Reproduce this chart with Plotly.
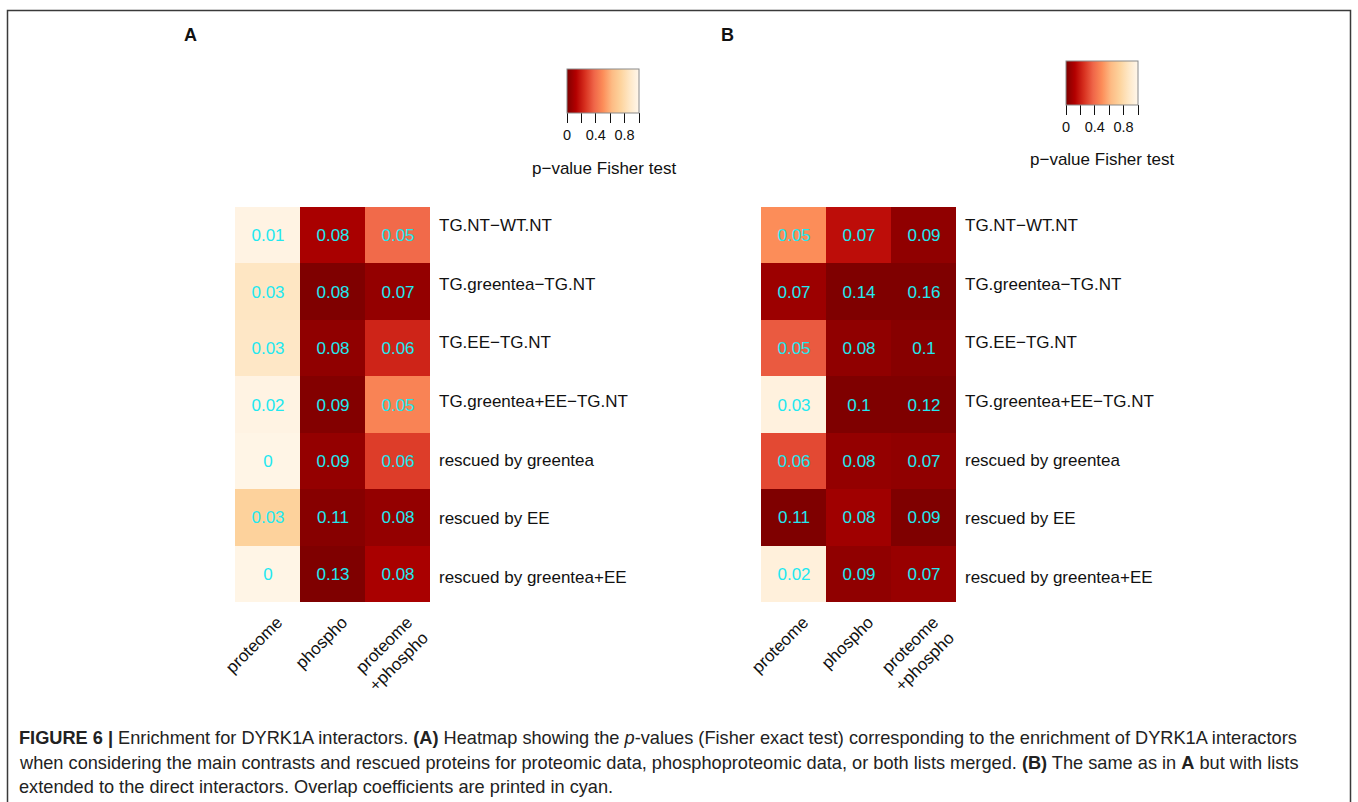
import plotly.graph_objects as go

W, H = 1358, 802

# Row (contrast) and column (data type) labels
contrasts = [
    "TG.NT\u2212WT.NT",
    "TG.greentea\u2212TG.NT",
    "TG.EE\u2212TG.NT",
    "TG.greentea+EE\u2212TG.NT",
    "rescued by greentea",
    "rescued by EE",
    "rescued by greentea+EE",
]
datasets = ["proteome", "phospho", "proteome<br>+phospho"]

# Panel A: Fisher test p-values per data type
pval_A_proteome = [0.97, 0.86, 0.87, 0.97, 0.98, 0.74, 0.98]
pval_A_phospho = [0.10, 0.00, 0.04, 0.01, 0.05, 0.02, 0.00]
pval_A_both = [0.39, 0.05, 0.22, 0.47, 0.28, 0.05, 0.10]

# Panel A: overlap coefficients
ovl_A_proteome = [0.01, 0.03, 0.03, 0.02, 0, 0.03, 0]
ovl_A_phospho = [0.08, 0.08, 0.08, 0.09, 0.09, 0.11, 0.13]
ovl_A_both = [0.05, 0.07, 0.06, 0.05, 0.06, 0.08, 0.08]

# Panel B: Fisher test p-values per data type (direct interactors added)
pval_B_proteome = [0.50, 0.07, 0.35, 0.95, 0.31, 0.00, 0.94]
pval_B_phospho = [0.16, 0.00, 0.04, 0.00, 0.05, 0.08, 0.04]
pval_B_both = [0.04, 0.00, 0.02, 0.00, 0.04, 0.00, 0.06]

# Panel B: overlap coefficients
ovl_B_proteome = [0.05, 0.07, 0.05, 0.03, 0.06, 0.11, 0.02]
ovl_B_phospho = [0.07, 0.14, 0.08, 0.1, 0.08, 0.08, 0.09]
ovl_B_both = [0.09, 0.16, 0.1, 0.12, 0.07, 0.09, 0.07]

cbar_tickvals = [0, 0.2, 0.4, 0.6, 0.8, 1.0]
cbar_ticktext = ["0", "", "0.4", "", "0.8", ""]

# reversed OrRd palette: dark red = small p-value
orrd = ["#7F0000", "#B30000", "#D7301F", "#EF6548", "#FC8D59",
        "#FDBB84", "#FDD49E", "#FEE8C8", "#FFF7EC"]
colorscale = [[i / (len(orrd) - 1), c] for i, c in enumerate(orrd)]

FONT = "Liberation Sans, Arial, Helvetica, sans-serif"
CYAN = "#22E8F0"


def px_x(px):
    return px / W


def px_y(py):
    return 1 - py / H


def matrix(*cols):
    return [list(r) for r in zip(*cols)]


def labels(*cols):
    return [[f"{v:g}" for v in r] for r in zip(*cols)]


def colorbar(cx, top):
    return dict(
        orientation="h",
        x=px_x(cx), xanchor="center",
        y=px_y(top), yanchor="top",
        lenmode="pixels", len=72,
        thicknessmode="pixels", thickness=44,
        xpad=0, ypad=0,
        outlinewidth=1, outlinecolor="#8a8a8a",
        ticks="outside", ticklen=10, tickwidth=1, tickcolor="#111",
        tickvals=cbar_tickvals, ticktext=cbar_ticktext,
        tickfont=dict(family=FONT, size=14.5, color="#111"),
    )


fig = go.Figure()

# empty traces that carry the row-label axes beside each heatmap
for xa, ya in (("x", "y3"), ("x2", "y4")):
    fig.add_trace(go.Scatter(x=[], y=[], xaxis=xa, yaxis=ya,
                             showlegend=False, hoverinfo="skip"))

fig.add_trace(go.Heatmap(
    z=matrix(pval_A_proteome, pval_A_phospho, pval_A_both),
    x=datasets, y=contrasts,
    text=labels(ovl_A_proteome, ovl_A_phospho, ovl_A_both),
    texttemplate="%{text}",
    textfont=dict(family=FONT, size=17, color=CYAN),
    colorscale=colorscale, zmin=0, zmax=1,
    colorbar=colorbar(603, 69),
    xaxis="x", yaxis="y",
))

fig.add_trace(go.Heatmap(
    z=matrix(pval_B_proteome, pval_B_phospho, pval_B_both),
    x=datasets, y=contrasts,
    text=labels(ovl_B_proteome, ovl_B_phospho, ovl_B_both),
    texttemplate="%{text}",
    textfont=dict(family=FONT, size=17, color=CYAN),
    colorscale=colorscale, zmin=0, zmax=1,
    colorbar=colorbar(1102, 61),
    xaxis="x2", yaxis="y2",
))

xcommon = dict(showgrid=False, zeroline=False, showline=False, ticks="",
               tickangle=-45, ticklabelstandoff=6, ticklabelshift=10,
               categoryorder="array", categoryarray=datasets,
               tickfont=dict(family=FONT, size=17, color="#111"),
               fixedrange=True, automargin=False)
ycommon = dict(showgrid=False, zeroline=False, showline=False, ticks="",
               autorange="reversed", showticklabels=False,
               fixedrange=True, automargin=False)
ylabels = dict(showgrid=False, zeroline=False, showline=False, ticks="",
               side="right", ticklabelstandoff=8,
               range=[len(contrasts) - 0.5, -0.5],
               tickvals=list(range(len(contrasts))), ticktext=contrasts,
               tickfont=dict(family=FONT, size=17, color="#111"),
               fixedrange=True, automargin=False)

fig.update_layout(
    width=W, height=H,
    margin=dict(l=0, r=0, t=0, b=0, autoexpand=False),
    paper_bgcolor="white", plot_bgcolor="rgba(0,0,0,0)",
    font=dict(family=FONT, color="#111"),
    xaxis=dict(domain=[px_x(235), px_x(430)], anchor="y", **xcommon),
    yaxis=dict(domain=[px_y(602), px_y(207)], anchor="x", **ycommon),
    xaxis2=dict(domain=[px_x(761), px_x(956)], anchor="y2", **xcommon),
    yaxis2=dict(domain=[px_y(602), px_y(207)], anchor="x2", **ycommon),
    yaxis3=dict(domain=[px_y(606), px_y(196)], anchor="x", **ylabels),
    yaxis4=dict(domain=[px_y(606), px_y(196)], anchor="x2", **ylabels),
)

# outer frame
fig.add_shape(type="rect", xref="paper", yref="paper",
              x0=px_x(7.5), x1=px_x(1350.5), y0=-0.1, y1=px_y(10.5),
              line=dict(color="#3a3a3a", width=1.5), fillcolor="rgba(0,0,0,0)")

annots = []
# panel letters
for txt, cx in (("A", 190), ("B", 727)):
    annots.append(dict(text=f"<b>{txt}</b>", x=px_x(cx), y=px_y(35),
                       xref="paper", yref="paper", showarrow=False,
                       xanchor="center", yanchor="middle",
                       font=dict(family=FONT, size=18, color="#111")))
# colour-bar titles
for cx, cy in ((604, 168), (1102, 159)):
    annots.append(dict(text="p\u2212value Fisher test", x=px_x(cx), y=px_y(cy),
                       xref="paper", yref="paper", showarrow=False,
                       xanchor="center", yanchor="middle",
                       font=dict(family=FONT, size=17, color="#111")))

caption = [
    "<b>FIGURE 6 |</b> Enrichment for DYRK1A interactors. <b>(A)</b> Heatmap showing the "
    "<i>p</i>-values (Fisher exact test) corresponding to the enrichment of DYRK1A interactors",
    "when considering the main contrasts and rescued proteins for proteomic data, "
    "phosphoproteomic data, or both lists merged. <b>(B)</b> The same as in <b>A</b> but with lists",
    "extended to the direct interactors. Overlap coefficients are printed in cyan.",
]
for i, line in enumerate(caption):
    annots.append(dict(text=line, x=px_x(17), y=px_y(738 + 24.5 * i),
                       xref="paper", yref="paper", showarrow=False,
                       xanchor="left", yanchor="middle",
                       font=dict(family=FONT, size=18.2, color="#222")))

fig.update_layout(annotations=annots)

fig.write_html("out.html")
